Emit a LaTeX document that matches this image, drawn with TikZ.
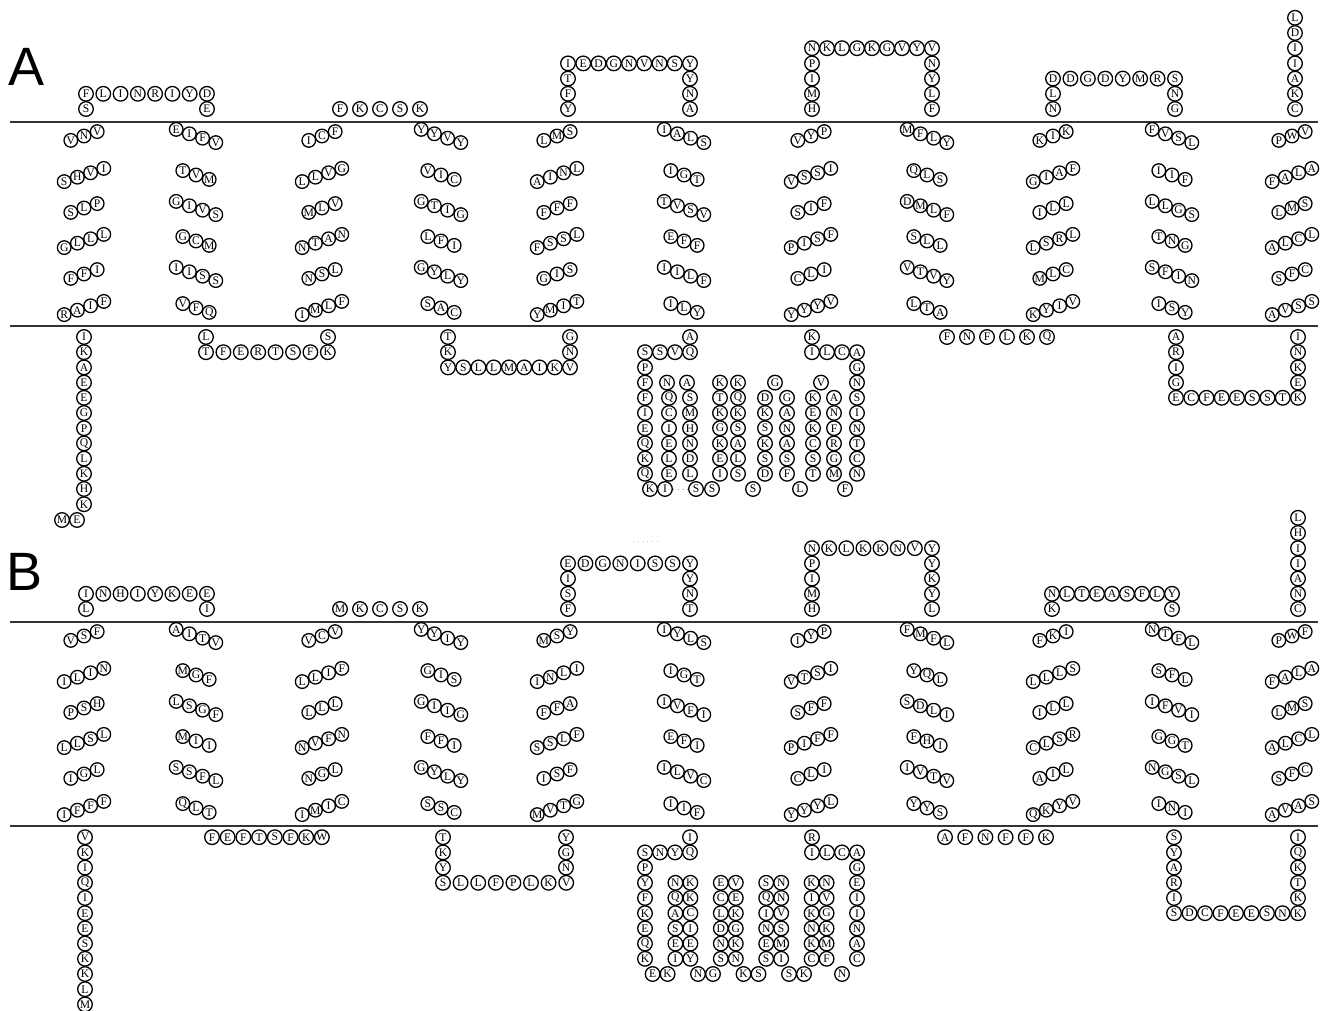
\documentclass[tikz,border=0pt]{standalone}
\usepackage{fontspec}
\setmainfont{Liberation Serif}
\newfontfamily\labelfont{Liberation Sans}
\usetikzlibrary{positioning}

\tikzset{
  res/.style={circle,draw,line width=0.65pt,minimum size=7.3pt,inner sep=0pt,
    font=\fontsize{5.8}{6}\selectfont},
  tm/.style={res,minimum size=6.8pt},
  membrane/.style={line width=1pt,black!80},
  panel/.style={font=\labelfont\fontsize{27}{30}\selectfont},
}

% residues in a row / a column
\newcommand{\hres}[5]{%
  \foreach \ltr [count=\idx from 0] in {#5}
    \node[res] (#1-\idx) at ({#2+\idx*#4},#3) {\ltr};}
\newcommand{\vres}[5]{%
  \foreach \ltr [count=\idx from 0] in {#5}
    \node[res] (#1-\idx) at (#2,{#3+\idx*#4}) {\ltr};}
% one tilted turn of a helix
\newcommand{\tmrow}[6]{%
  \foreach \ltr [count=\idx] in {#6}
    \node[tm] (#1-\idx) at ({#2+(\idx-(#5+1)/2)*13.2},{#3-(#4)*(\idx-(#5+1)/2)*4.4}) {\ltr};}
\newcommand{\tmodd}[9]{%
  \tmrow{#1r1}{#2}{136+#3}{1}{3}{#4}
  \tmrow{#1r2}{#2}{175+#3}{1}{4}{#5}
  \tmrow{#1r3}{#2}{208+#3}{1}{3}{#6}
  \tmrow{#1r4}{#2}{241+#3}{1}{4}{#7}
  \tmrow{#1r5}{#2}{274+#3}{1}{3}{#8}
  \tmrow{#1r6}{#2}{308+#3}{1}{4}{#9}}
\newcommand{\tmeven}[9]{%
  \tmrow{#1r1}{#2}{136+#3}{-1}{4}{#4}
  \tmrow{#1r2}{#2}{175+#3}{-1}{3}{#5}
  \tmrow{#1r3}{#2}{208+#3}{-1}{4}{#6}
  \tmrow{#1r4}{#2}{241+#3}{-1}{3}{#7}
  \tmrow{#1r5}{#2}{274+#3}{-1}{4}{#8}
  \tmrow{#1r6}{#2}{308+#3}{-1}{3}{#9}}

\begin{document}
\begin{tikzpicture}[x=0.5pt,y=-0.5pt]
  \useasboundingbox (0,0) rectangle (1328,1011);
  \node[panel] (labA) at (27,67) {A};
  \node[panel] (labB) at (25,572) {B};
  \draw[membrane] (10,122) -- (1318,122);
  \draw[membrane] (10,326) -- (1318,326);
  \draw[membrane] (10,622) -- (1318,622);
  \draw[membrane] (10,826) -- (1318,826);

  % ---- A: upper loops
  \node[res] (aL1s) at (86,109) {S};
  \hres{aL1}{86}{93.8}{17.28}{F,L,I,N,R,I,Y,D}
  \node[res] (aL1e) at (207,109) {E};
  \hres{aL2}{340}{109}{20}{F,K,C,S,K}
  \vres{aL3l}{568}{109}{-15.2}{Y,F,T}
  \hres{aL3}{568}{63.4}{15.25}{I,E,D,G,N,V,N,S,Y}
  \vres{aL3r}{690}{78.6}{15.2}{Y,N,A}
  \vres{aL4l}{812}{109}{-15.2}{H,M,I,P}
  \hres{aL4}{812}{48.2}{15}{N,K,L,G,K,G,V,Y,V}
  \vres{aL4r}{932}{63.4}{15.2}{N,Y,L,F}
  \vres{aL5l}{1053}{109}{-15.2}{N,L}
  \hres{aL5}{1053}{78.6}{17.43}{D,D,G,D,Y,M,R,S}
  \vres{aL5r}{1175}{93.8}{15.2}{N,G}
  \vres{aC}{1295}{109}{-15.2}{C,K,A,I,I,D,L}

  % ---- A: helices
  \tmodd{aT1}{84}{0}{V,N,V}{S,H,V,I}{S,L,P}{G,L,L,L}{F,F,I}{R,A,I,F}
  \tmeven{aT2}{196}{0}{E,I,F,V}{T,V,M}{G,I,V,S}{G,C,M}{I,I,S,S}{V,F,Q}
  \tmodd{aT3}{322}{0}{I,C,F}{L,L,V,G}{M,L,V}{N,T,A,N}{N,S,L}{I,M,L,F}
  \tmeven{aT4}{441}{0}{Y,Y,V,Y}{V,I,C}{G,T,I,G}{L,F,I}{G,Y,L,Y}{S,A,C}
  \tmodd{aT5}{557}{0}{L,M,S}{A,I,N,L}{F,F,F}{F,S,S,L}{G,I,S}{Y,M,I,T}
  \tmeven{aT6}{684}{0}{I,A,L,S}{I,G,T}{T,V,S,V}{E,F,F}{I,I,L,F}{I,L,Y}
  \tmodd{aT7}{811}{0}{V,Y,P}{V,S,S,I}{S,I,F}{P,I,S,F}{C,L,I}{Y,Y,Y,V}
  \tmeven{aT8}{927}{0}{M,F,L,Y}{Q,L,S}{D,M,L,F}{S,L,L}{V,T,V,Y}{L,T,A}
  \tmodd{aT9}{1053}{0}{K,I,K}{G,I,A,F}{I,L,L}{L,S,R,L}{M,L,C}{K,Y,I,V}
  \tmeven{aT10}{1172}{0}{F,V,S,L}{I,I,F}{L,L,G,S}{T,N,G}{S,F,I,N}{I,S,Y}
  \tmodd{aT11}{1292}{0}{P,W,V}{F,A,L,A}{L,M,S}{A,L,C,L}{S,F,C}{A,V,S,S}

  % ---- A: lower loops
  \vres{aN}{84}{337}{15.2}{I,K,A,E,E,G,P,Q,L,K,H,K}
  \node[res] (aNe) at (77,520) {E};
  \node[res] (aNm) at (62,520) {M};
  \node[res] (aB1l) at (206,337) {L};
  \hres{aB1}{206}{352.2}{17.4}{T,F,E,R,T,S,F,K}
  \node[res] (aB1r) at (328,337) {S};
  \vres{aB2l}{448}{337}{15.2}{T,K}
  \hres{aB2}{448}{367.4}{15.25}{Y,S,L,L,M,A,I,K,V}
  \vres{aB2r}{570}{337}{15.2}{G,N}
  % big loop
  \node[res] (aB3a) at (690,337) {A};
  \hres{aB3t}{645}{352.2}{15}{S,S,V,Q}
  \vres{aB3l}{645}{367.4}{15.2}{P,F,F,I,E,Q,K,Q}
  \node[res] (aB3k) at (650,489) {K};
  \node[res] (aB3i) at (665,489) {I};
  \draw[dotted,black!40] (673,489) -- (688,489);
  \node[res] (aB3n) at (667,382.6) {N};
  \vres{aB3c1}{669}{397.8}{15.2}{Q,C,I,E,L,E}
  \node[res] (aB3b) at (687,382.6) {A};
  \vres{aB3c2}{690}{397.8}{15.2}{S,M,H,N,D,L}
  \node[res] (aB3s1) at (696,489) {S};
  \node[res] (aB3s2) at (712,489) {S};
  \vres{aB3c3}{720}{382.6}{15.2}{K,T,K,G,K,E,I}
  \vres{aB3c4}{738}{382.6}{15.2}{K,Q,K,S,A,L,S}
  \node[res] (aB3s3) at (753,489) {S};
  \vres{aB3c5}{765}{397.8}{15.2}{D,K,S,K,S,D}
  \node[res] (aB3g) at (775,382.6) {G};
  \vres{aB3c6}{787}{397.8}{15.2}{G,A,N,A,S,F}
  \node[res] (aB3l1) at (800,489) {L};
  \vres{aB3c7}{813}{397.8}{15.2}{K,E,K,C,S,T}
  \node[res] (aB3v) at (821,382.6) {V};
  \vres{aB3c8}{834}{397.8}{15.2}{A,N,F,R,G,M}
  \node[res] (aB3f) at (845,489) {F};
  \vres{aB3r}{857}{352.2}{15.2}{A,G,N,S,I,N,T,C,N}
  \hres{aB3u}{812}{352.2}{15}{I,L,C}
  \node[res] (aB3k2) at (812,337) {K};
  \hres{aB4}{947}{337}{20}{F,N,F,L,K,Q}
  \vres{aB5l}{1176}{337}{15.2}{A,R,I,G}
  \hres{aB5}{1176}{397.8}{15.25}{E,C,F,E,E,S,S,T,K}
  \vres{aB5r}{1298}{337}{15.2}{I,N,K,E}

  % ---- B: upper loops
  \node[res] (bL1s) at (86,609) {L};
  \hres{bL1}{86}{593.8}{17.28}{I,N,H,I,Y,K,E,E}
  \node[res] (bL1e) at (207,609) {I};
  \hres{bL2}{340}{609}{20}{M,K,C,S,K}
  \draw[dotted,black!20] (633,541) -- (660,541);
  \vres{bL3l}{568}{609}{-15.2}{F,S,I}
  \hres{bL3}{568}{563.4}{17.43}{E,D,G,N,I,S,S,Y}
  \vres{bL3r}{690}{578.6}{15.2}{Y,N,T}
  \vres{bL4l}{812}{609}{-15.2}{H,M,I,P}
  \hres{bL4}{812}{548.2}{17.14}{N,K,L,K,K,N,V,Y}
  \vres{bL4r}{932}{563.4}{15.2}{Y,K,Y,L}
  \node[res] (bL5s) at (1052,609) {K};
  \hres{bL5}{1052}{593.8}{15}{N,L,T,E,A,S,F,L,Y}
  \node[res] (bL5e) at (1172,609) {S};
  \vres{bC}{1298}{609}{-15.2}{C,N,A,I,I,H,L}

  % ---- B: helices
  \tmodd{bT1}{84}{500}{V,S,F}{I,L,I,N}{P,S,H}{L,L,S,L}{I,G,L}{I,F,F,F}
  \tmeven{bT2}{196}{500}{A,I,T,V}{M,G,F}{L,S,G,F}{M,I,I}{S,S,F,L}{Q,L,T}
  \tmodd{bT3}{322}{500}{V,C,V}{L,L,I,F}{L,L,L}{N,V,F,N}{N,G,L}{I,M,I,C}
  \tmeven{bT4}{441}{500}{Y,Y,I,Y}{G,I,S}{G,I,I,G}{F,F,I}{G,Y,L,Y}{S,S,C}
  \tmodd{bT5}{557}{500}{M,S,Y}{I,N,L,I}{F,F,A}{S,S,L,F}{I,S,F}{M,V,T,G}
  \tmeven{bT6}{684}{500}{I,Y,L,S}{I,G,T}{I,V,F,I}{E,F,I}{I,L,V,C}{I,I,F}
  \tmodd{bT7}{811}{500}{I,Y,P}{V,T,S,I}{S,F,F}{P,I,F,F}{C,L,I}{Y,Y,Y,L}
  \tmeven{bT8}{927}{500}{F,M,F,L}{Y,Q,L}{S,D,L,I}{F,H,I}{I,V,T,V}{Y,Y,S}
  \tmodd{bT9}{1053}{500}{F,K,I}{L,L,L,S}{I,L,L}{C,L,S,R}{A,I,L}{Q,K,Y,V}
  \tmeven{bT10}{1172}{500}{N,T,F,L}{S,F,L}{I,F,V,I}{G,G,T}{N,G,S,L}{I,N,I}
  \tmodd{bT11}{1292}{500}{P,W,F}{F,A,L,A}{L,M,S}{A,L,C,L}{S,F,C}{A,V,A,S}

  % ---- B: lower loops
  \vres{bN}{85}{837.2}{15.2}{V,K,I,Q,I,E,E,S,K,K,L,M}
  \hres{bB1}{212}{837.2}{15.7}{F,E,F,T,S,F,K,W}
  \vres{bB2l}{443}{837.2}{15.2}{T,K,Y}
  \hres{bB2}{443}{882.8}{17.6}{S,L,L,F,P,L,K,V}
  \vres{bB2r}{566}{837.2}{15.2}{Y,G,N}
  % big loop
  \node[res] (bB3a) at (690,837.2) {I};
  \hres{bB3t}{645}{852.4}{15}{S,N,Y,Q}
  \vres{bB3l}{645}{867.6}{15.2}{P,Y,F,K,E,Q,K}
  \node[res] (bB3e) at (652.6,974) {E};
  \node[res] (bB3k) at (667.6,974) {K};
  \vres{bB3c1}{675.4}{882.8}{15.2}{N,Q,A,S,E,I}
  \vres{bB3c2}{690.4}{882.8}{15.2}{K,K,C,I,E,Y}
  \node[res] (bB3n) at (698,974) {N};
  \node[res] (bB3g) at (713,974) {G};
  \vres{bB3c3}{720.8}{882.8}{15.2}{E,C,L,D,N,S}
  \vres{bB3c4}{735.8}{882.8}{15.2}{V,E,K,G,K,N}
  \node[res] (bB3k2) at (743.5,974) {K};
  \node[res] (bB3s) at (758.5,974) {S};
  \vres{bB3c5}{766.2}{882.8}{15.2}{S,Q,I,N,E,S}
  \vres{bB3c6}{781.2}{882.8}{15.2}{N,N,V,S,M,I}
  \node[res] (bB3s2) at (789,974) {S};
  \node[res] (bB3k3) at (804,974) {K};
  \vres{bB3c7}{811.6}{882.8}{15.2}{K,I,K,N,K,C}
  \vres{bB3c8}{826.6}{882.8}{15.2}{N,V,G,K,M,F}
  \node[res] (bB3n2) at (842,974) {N};
  \vres{bB3r}{857}{852.4}{15.2}{A,G,E,I,I,N,A,C}
  \hres{bB3u}{812}{852.4}{15}{I,L,C}
  \node[res] (bB3r0) at (812,837.2) {R};
  \hres{bB4}{945}{837.2}{20.2}{A,F,N,F,F,K}
  \vres{bB5l}{1174}{837.2}{15.2}{S,Y,A,R,I}
  \hres{bB5}{1174}{913.2}{15.5}{S,D,C,F,E,E,S,N,K}
  \vres{bB5r}{1298}{837.2}{15.2}{I,Q,K,T,K}
\end{tikzpicture}
\end{document}
